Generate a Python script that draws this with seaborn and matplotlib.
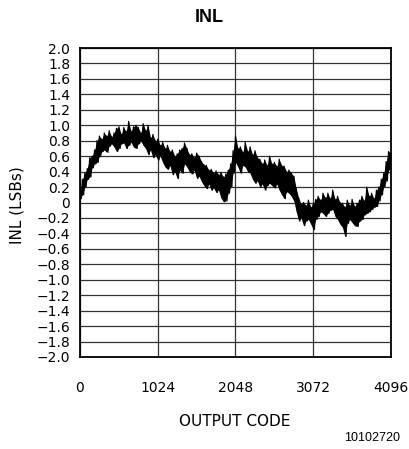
import numpy as np
import pandas as pd
import matplotlib
matplotlib.use("Agg")
import matplotlib.pyplot as plt
import seaborn as sns

# Output codes sampled every 32 codes
codes = list(range(0, 4097, 32))
# Upper / lower envelope of the INL trace (LSBs)
inl_upper = [0.12, 0.30, 0.38, 0.44, 0.58, 0.60, 0.68, 0.80,
             0.86, 0.82, 0.90, 0.86, 0.93, 0.85, 0.90, 0.96,
             0.98, 0.88, 0.97, 0.92, 1.05, 0.92, 0.98, 1.00,
             0.97, 0.90, 1.02, 0.93, 1.00, 0.84, 0.88, 0.80,
             0.82, 0.74, 0.78, 0.70, 0.74, 0.66, 0.68, 0.60,
             0.63, 0.68, 0.70, 0.77, 0.70, 0.62, 0.63, 0.58,
             0.64, 0.60, 0.53, 0.49, 0.48, 0.42, 0.43, 0.38,
             0.41, 0.36, 0.39, 0.33, 0.37, 0.42, 0.50, 0.67,
             0.86, 0.70, 0.72, 0.65, 0.78, 0.66, 0.72, 0.62,
             0.67, 0.58, 0.56, 0.50, 0.55, 0.48, 0.60, 0.50,
             0.52, 0.47, 0.56, 0.48, 0.47, 0.40, 0.42, 0.38,
             0.34, 0.18, 0.06, -0.02, 0.00, -0.04, 0.03, -0.06,
             -0.01, 0.04, 0.08, 0.03, 0.12, 0.06, 0.12, 0.05,
             0.16, 0.04, 0.08, 0.00, -0.01, -0.06, 0.03, -0.04,
             0.04, -0.05, -0.01, 0.03, 0.08, 0.02, 0.20, 0.08,
             0.12, 0.05, 0.16, 0.20, 0.30, 0.38, 0.53, 0.66,
             0.64]
inl_lower = [0.05, 0.10, 0.20, 0.30, 0.33, 0.45, 0.50, 0.52,
             0.60, 0.66, 0.68, 0.65, 0.73, 0.76, 0.72, 0.66,
             0.70, 0.76, 0.77, 0.70, 0.74, 0.78, 0.72, 0.70,
             0.76, 0.80, 0.74, 0.70, 0.62, 0.68, 0.58, 0.62,
             0.55, 0.60, 0.52, 0.46, 0.43, 0.48, 0.36, 0.40,
             0.31, 0.42, 0.38, 0.50, 0.46, 0.40, 0.37, 0.42,
             0.31, 0.34, 0.27, 0.22, 0.18, 0.24, 0.16, 0.19,
             0.13, 0.16, 0.06, 0.01, 0.02, 0.12, 0.20, 0.38,
             0.52, 0.46, 0.38, 0.48, 0.46, 0.40, 0.38, 0.30,
             0.25, 0.28, 0.20, 0.24, 0.16, 0.22, 0.25, 0.22,
             0.19, 0.24, 0.16, 0.10, 0.05, 0.14, 0.12, 0.08,
             0.02, -0.12, -0.24, -0.20, -0.30, -0.24, -0.22, -0.28,
             -0.35, -0.22, -0.18, -0.12, -0.14, -0.18, -0.14, -0.10,
             -0.09, -0.18, -0.22, -0.28, -0.32, -0.44, -0.27, -0.22,
             -0.26, -0.30, -0.31, -0.24, -0.22, -0.16, -0.14, -0.12,
             -0.09, -0.06, -0.05, 0.02, 0.10, 0.20, 0.28, 0.42,
             0.55]

x_ticks = [0, 1024, 2048, 3072, 4096]
y_ticks = [2.0, 1.8, 1.6, 1.4, 1.2, 1.0, 0.8, 0.6, 0.4, 0.2, 0.0,
           -0.2, -0.4, -0.6, -0.8, -1.0, -1.2, -1.4, -1.6, -1.8, -2.0]
y_tick_labels = ["2.0", "1.8", "1.6", "1.4", "1.2", "1.0", "0.8", "0.6", "0.4", "0.2", "0",
                 "\u22120.2", "\u22120.4", "\u22120.6", "\u22120.8", "\u22121.0",
                 "\u22121.2", "\u22121.4", "\u22121.6", "\u22121.8", "\u22122.0"]

sns.set_theme(style="white")
plt.rcParams["font.family"] = ["DejaVu Sans"]
for k in ["text.color", "axes.labelcolor", "xtick.color", "ytick.color"]:
    plt.rcParams[k] = "black"

fig = plt.figure(figsize=(4.10, 4.49), dpi=100)
ax = fig.add_axes([80 / 410, 1 - 357 / 449, 311 / 410, 309 / 449])

# zigzag trace alternating between envelopes
zx, zy = [], []
for i, c in enumerate(codes):
    zx.append(c)
    zy.append(inl_upper[i])
    if c < 4096:
        zx.append(c + 16)
        zy.append(inl_lower[i])
df = pd.DataFrame({"code": zx, "inl": zy})

ax.fill_between(codes, inl_lower, inl_upper, color="black", linewidth=0, zorder=3)
sns.lineplot(data=df, x="code", y="inl", ax=ax, color="black", linewidth=0.9,
             zorder=4, estimator=None, sort=False)

ax.set_xlim(0, 4096)
ax.set_ylim(-2.0, 2.0)
ax.set_xticks(x_ticks)
ax.set_xticklabels([str(t) for t in x_ticks])
ax.set_yticks(y_ticks)
ax.set_yticklabels(y_tick_labels)
ax.grid(True, color="#333333", linewidth=0.9)
ax.set_axisbelow(True)
for s in ax.spines.values():
    s.set_color("black")
    s.set_linewidth(1.3)
ax.tick_params(axis="both", length=0, labelsize=10, colors="black")
ax.tick_params(axis="x", pad=17)
ax.tick_params(axis="y", pad=7)
ax.set_xlabel("")
ax.set_ylabel("")

fig.text(209 / 410, 1 - 17 / 449, "INL", ha="center", va="center",
         fontsize=13, fontweight="bold", family="Liberation Sans", color="black")
fig.text(17 / 410, 1 - 205 / 449, "INL (LSBs)", rotation=90, ha="center", va="center",
         fontsize=11, color="black")
fig.text(235 / 410, 1 - 422 / 449, "OUTPUT CODE", ha="center", va="center",
         fontsize=11, color="black")
fig.text(400 / 410, 1 - 438 / 449, "10102720", ha="right", va="center",
         fontsize=9, family="Liberation Sans", color="black")

fig.savefig("out.png", dpi=100)
